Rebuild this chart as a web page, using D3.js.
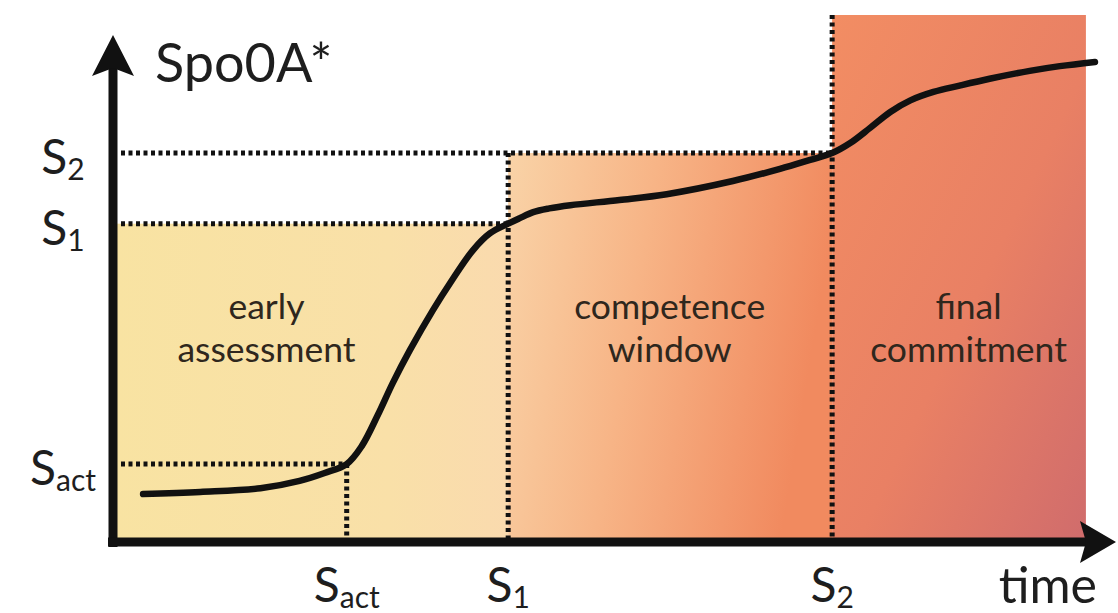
<!DOCTYPE html>
<html><head><meta charset="utf-8">
<script src="https://cdn.jsdelivr.net/npm/d3@7"></script>
<style>html,body{margin:0;padding:0;background:#fff;} svg{display:block;}</style>
</head><body>
<svg id="chart" width="1118" height="613"></svg>
<script>
// ---- data (time and Spo0A* level in arbitrary units, 0-100) ----
const curveTime  = [3.0, 8.7, 14.7, 18.6, 21.1, 23.3, 24.8, 26.4, 27.9, 29.6, 31.9, 33.6, 35.9, 37.6, 39.4, 40.5, 41.9, 43.5, 45.6, 50.5, 55.2, 61.8, 66.5, 69.5, 71.7, 73.5, 75.5, 77.5, 79.5, 81.8, 84.4, 87.4, 91.4, 94.4, 97.9];
const curveLevel = [9.1, 9.5, 10.2, 11.6, 13.1, 14.8, 18.2, 24.1, 30.2, 36.4, 44.0, 49.1, 55.4, 58.6, 60.4, 61.4, 62.6, 63.3, 63.9, 64.9, 66.0, 68.5, 70.8, 72.5, 73.8, 75.7, 78.6, 81.6, 83.8, 85.4, 86.6, 87.9, 89.4, 90.3, 91.1];
const thresholdSubs   = ["act", "1", "2"];
const thresholdLevels = [14.8, 60.4, 73.8];
const thresholdTimes  = [23.3, 39.4, 71.7];
const phaseLines  = [["early", "assessment"], ["competence", "window"], ["final", "commitment"]];
const phaseStart  = [0, 39.4, 71.7];
const phaseEnd    = [39.4, 71.7, 97.0];
const phaseTop    = [60.4, 73.8, 100];
const phaseLabelT = [15.3, 55.5, 85.3];
const yAxisTitle = "Spo0A*";
const xAxisTitle = "time";

// ---- layout ----
const svg = d3.select("#chart");
const x = d3.scaleLinear().domain([0, 100]).range([113, 1116]);
const y = d3.scaleLinear().domain([0, 100]).range([542, 15]);
const FONT = "Lato, 'Open Sans', sans-serif";
const INK = "#111";

// gradients
const defs = svg.append("defs");
const grads = [
  {id: "g0", x2: "100%", y2: "0%", stops: [["0%", "#f8e3a2"], ["70%", "#f9e0a8"], ["100%", "#fadaae"]]},
  {id: "g1", x2: "100%", y2: "20%", stops: [["0%", "#f9d3a7"], ["45%", "#f7b486"], ["100%", "#f18a5f"]]},
  {id: "g2", x2: "100%", y2: "100%", stops: [["0%", "#f28d63"], ["55%", "#e98064"], ["100%", "#d06c6c"]]}
];
grads.forEach(g => {
  const lg = defs.append("linearGradient").attr("id", g.id)
    .attr("x1", "0%").attr("y1", "0%").attr("x2", g.x2).attr("y2", g.y2);
  g.stops.forEach(s => lg.append("stop").attr("offset", s[0]).attr("stop-color", s[1]));
});

// phase backgrounds
const phases = phaseLines.map((l, i) => ({lines: l, t0: phaseStart[i], t1: phaseEnd[i], top: phaseTop[i], lt: phaseLabelT[i], i}));
svg.append("g").selectAll("rect").data(phases).join("rect")
  .attr("x", d => x(d.t0)).attr("y", d => y(d.top))
  .attr("width", d => x(d.t1) - x(d.t0)).attr("height", d => y(0) - y(d.top))
  .attr("fill", d => `url(#g${d.i})`);

// phase labels
const pl = svg.append("g").attr("font-family", FONT).attr("font-size", 35.5).attr("fill", "#2f271d").attr("text-anchor", "middle");
phases.forEach(d => {
  d.lines.forEach((ln, k) => {
    pl.append("text").attr("x", x(d.lt)).attr("y", 319 + k * 43).text(ln);
  });
});

// dotted threshold guides
const thr = thresholdLevels.map((v, i) => ({v, t: thresholdTimes[i], sub: thresholdSubs[i], vTop: i === 0 ? v : phaseTop[i]}));
const dg = svg.append("g").attr("stroke", INK).attr("stroke-width", 5).attr("stroke-dasharray", "4,3.5").attr("fill", "none");
thr.forEach(d => {
  dg.append("line").attr("x1", x(0) + 8).attr("x2", x(d.t)).attr("y1", y(d.v)).attr("y2", y(d.v));
  dg.append("line").attr("x1", x(d.t)).attr("x2", x(d.t)).attr("y1", y(d.vTop)).attr("y2", y(0));
});

// curve
const pts = curveTime.map((t, i) => [t, curveLevel[i]]);
svg.append("path").datum(pts)
  .attr("d", d3.line().x(d => x(d[0])).y(d => y(d[1])).curve(d3.curveCatmullRom.alpha(0.5)))
  .attr("fill", "none").attr("stroke", INK).attr("stroke-width", 6.5).attr("stroke-linecap", "round");

// axes with arrows
const ax = svg.append("g");
const x0 = x(0), y0 = y(0);
const yTip = y(96.2), xTip = x(100);
ax.append("line").attr("x1", x0).attr("x2", x0).attr("y1", y0 + 5).attr("y2", yTip + 30).attr("stroke", INK).attr("stroke-width", 9);
ax.append("line").attr("x1", x0 - 5).attr("x2", xTip - 30).attr("y1", y0).attr("y2", y0).attr("stroke", INK).attr("stroke-width", 9);
ax.append("path").attr("d", `M${x0},${yTip} L${x0 + 21},${yTip + 41} L${x0},${yTip + 33} L${x0 - 21},${yTip + 41} Z`).attr("fill", INK);
ax.append("path").attr("d", `M${xTip},${y0} L${xTip - 36},${y0 + 21} L${xTip - 30},${y0} L${xTip - 36},${y0 - 21} Z`).attr("fill", INK);

// axis titles
svg.append("text").attr("x", x0 + 42).attr("y", 82).attr("font-family", FONT).attr("font-size", 54).attr("fill", "#1e1e1e").text(yAxisTitle);
svg.append("text").attr("x", x(93.2)).attr("y", 603).attr("text-anchor", "middle").attr("font-family", FONT).attr("font-size", 50).attr("fill", "#1e1e1e").text(xAxisTitle);

// threshold labels (y side and x side)
function sLabel(g, sub) {
  g.append("tspan").text("S");
  g.append("tspan").attr("font-size", 30).attr("dy", 6).text(sub);
}
const tl = svg.append("g").attr("font-family", FONT).attr("font-size", 48).attr("fill", "#1e1e1e");
thr.forEach(d => {
  const a = tl.append("text").attr("x", 63).attr("y", y(d.v) + 21).attr("text-anchor", "middle");
  sLabel(a, d.sub);
  const b = tl.append("text").attr("x", x(d.t)).attr("y", 602).attr("text-anchor", "middle");
  sLabel(b, d.sub);
});
</script>
</body></html>
